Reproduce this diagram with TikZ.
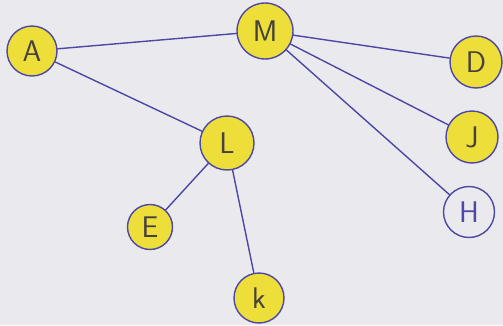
\documentclass[tikz,border=0pt]{standalone}
\usepackage{tikz}
\usetikzlibrary{calc}
\definecolor{paperbg}{RGB}{234,234,238}
\definecolor{penblue}{RGB}{78,72,165}
\definecolor{markyellow}{RGB}{238,222,58}
\definecolor{pencilgray}{RGB}{70,66,60}
\tikzset{
vert/.style={circle, draw=penblue, line width=0.8pt, fill=markyellow, text=pencilgray, inner sep=0pt, font=\sffamily\fontsize{17}{19}\selectfont},
vertplain/.style={vert, fill=paperbg, text=penblue},
link/.style={draw=penblue, line width=0.8pt, line cap=round}
}

\begin{document}
\begin{tikzpicture}[x=0.02cm,y=-0.02cm]

\fill[paperbg] (0,0) rectangle (503,325);
\useasboundingbox (0,0) rectangle (503,325);

\node[vert, minimum size=1.00cm] (A) at (32,51) {A};
\node[vert, minimum size=1.12cm] (M) at (265,31) {M};
\node[vert, minimum size=1.04cm] (D) at (476,62) {D};
\node[vert, minimum size=1.04cm] (J) at (472,137) {J};
\node[vertplain, minimum size=1.02cm] (H) at (469,212) {H};
\node[vert, minimum size=1.08cm] (L) at (227,143) {L};
\node[vert, minimum size=0.90cm] (E) at (150,227) {E};
\node[vert, minimum size=1.00cm] (K) at (259,298) {k};

\draw[link] (A) -- (M);
\draw[link] (A) -- (L);
\draw[link] (D) -- (M);
\draw[link] (J) -- (M);
\draw[link] (H) -- (M);
\draw[link] (E) -- (L);
\draw[link] (K) -- (L);

\end{tikzpicture}
\end{document}
